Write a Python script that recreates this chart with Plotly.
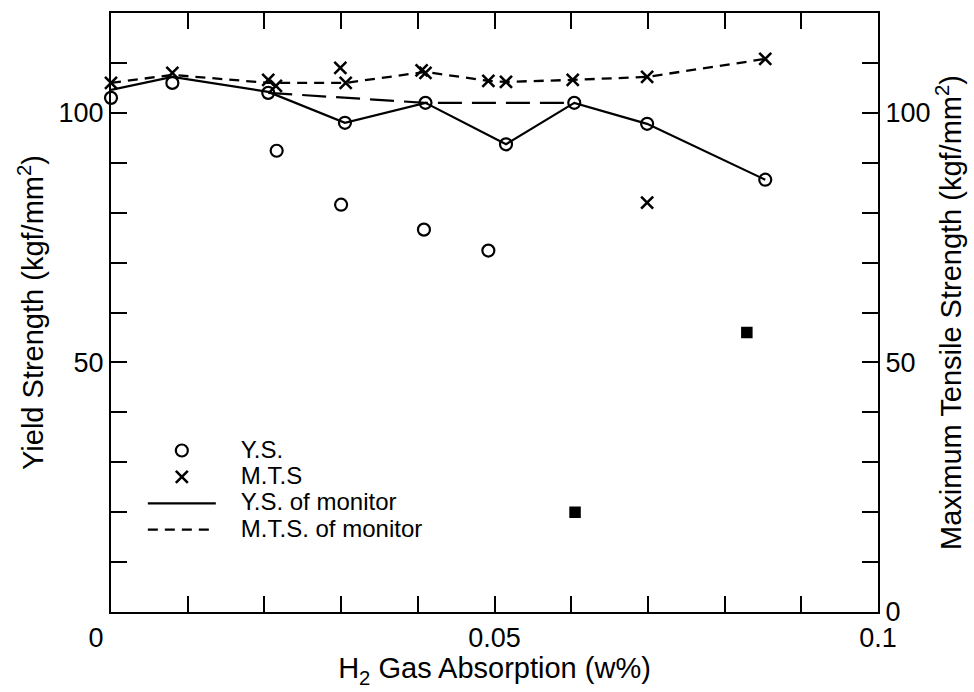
import plotly.graph_objects as go

# ---- data ----
# Y.S. individual specimens (circles)
ys_x = [0.0, 0.008, 0.0205, 0.0216, 0.0300, 0.0305, 0.0408, 0.0410, 0.0492, 0.0515, 0.0604, 0.0699, 0.0853]
ys_y = [103.0, 106.0, 104.0, 92.4, 81.6, 98.0, 76.6, 102.0, 72.4, 93.7, 102.0, 97.8, 86.6]

# M.T.S individual specimens (crosses)
mts_x = [0.0, 0.008, 0.0205, 0.0215, 0.0299, 0.0306, 0.0405, 0.0410, 0.0492, 0.0515, 0.0602, 0.0699, 0.0853, 0.0699]
mts_y = [106.0, 108.0, 106.6, 105.4, 109.0, 106.0, 108.5, 108.0, 106.4, 106.2, 106.6, 107.2, 110.8, 82.0]

# specimens where Y.S. = M.T.S. (overlapping symbols)
both_x = [0.0605, 0.0829]
both_y = [20.0, 56.0]

# monitor curves
ysm_x = [0.0, 0.008, 0.0205, 0.0305, 0.041, 0.0515, 0.0604, 0.0699, 0.0853]
ysm_y = [104.6, 107.2, 104.2, 98.0, 102.0, 93.7, 102.0, 97.8, 86.6]

mtsm_x = [0.0, 0.008, 0.0205, 0.0306, 0.041, 0.0492, 0.0515, 0.0602, 0.0699, 0.0853]
mtsm_y = [106.0, 107.6, 106.0, 106.0, 108.2, 106.4, 106.2, 106.6, 107.2, 110.8]

# long-dash reference line
ref_x = [0.0205, 0.041, 0.0604]
ref_y = [104.0, 102.0, 102.0]

x_ticks = [i / 100 for i in range(11)]
x_text = ["0" + "\u00a0" * 4, "", "", "", "", "0.05", "", "", "", "", "0.1"]
y_ticks = list(range(0, 121, 10))
yl_text = ["" if v not in (50, 100) else str(v) for v in y_ticks]
yr_text = ["" if v not in (0, 50, 100) else str(v) for v in y_ticks]

legend_names = ["Y.S.", "M.T.S", "Y.S. of monitor", "M.T.S. of monitor"]

FONT = "Liberation Sans, Arial, Helvetica, sans-serif"
K = "black"
PAD = "\u00a0" * 4


def leg(name):
    return PAD + '<span style="font-size:24px">' + name + "</span>"


fig = go.Figure()

fig.add_trace(go.Scatter(x=ys_x, y=ys_y, mode="markers", name=leg(legend_names[0]), cliponaxis=False,
                         marker=dict(symbol="circle-open", size=12, color=K, line=dict(width=2.2, color=K))))
fig.add_trace(go.Scatter(x=mts_x, y=mts_y, mode="markers", name=leg(legend_names[1]), yaxis="y2", cliponaxis=False,
                         marker=dict(symbol="x-thin-open", size=12, color=K, line=dict(width=2.6, color=K))))
fig.add_trace(go.Scatter(x=ysm_x, y=ysm_y, mode="lines", name=leg(legend_names[2]), cliponaxis=False,
                         line=dict(color=K, width=2.2)))
fig.add_trace(go.Scatter(x=mtsm_x, y=mtsm_y, mode="lines", name=leg(legend_names[3]), yaxis="y2", cliponaxis=False,
                         line=dict(color=K, width=2.3, dash="10px,7px")))
fig.add_trace(go.Scatter(x=ref_x, y=ref_y, mode="lines", showlegend=False,
                         line=dict(color=K, width=2.2, dash="24px,10px")))
fig.add_trace(go.Scatter(x=both_x, y=both_y, mode="markers", showlegend=False,
                         marker=dict(symbol="square-x", size=10, color=K, line=dict(width=1.5, color=K))))

axis_common = dict(showgrid=False, zeroline=False, showline=True, linecolor=K, linewidth=2.2,
                   ticks="inside", ticklen=16, tickwidth=2, tickcolor=K,
                   tickfont=dict(family=FONT, size=27, color=K))
TFONT = dict(family=FONT, size=29, color=K)

fig.update_layout(
    width=974, height=692,
    margin=dict(l=111, r=96, t=13, b=80),
    paper_bgcolor="white", plot_bgcolor="white",
    font=dict(family=FONT, size=26, color=K),
    showlegend=True,
    legend=dict(x=0.0415, y=0.30, xanchor="left", yanchor="top",
                bgcolor="rgba(0,0,0,0)", borderwidth=0,
                font=dict(family=FONT, size=18, color=K),
                itemwidth=68, tracegroupgap=0),
    xaxis=dict(range=[0, 0.1], tickvals=x_ticks, ticktext=x_text, mirror="ticks",
               title=dict(text="H<sub>2</sub> Gas Absorption (w%)", font=TFONT, standoff=6),
               **axis_common),
    yaxis=dict(range=[0, 120], tickvals=y_ticks, ticktext=yl_text,
               title=dict(text="Yield Strength (kgf/mm<sup>2</sup>)", font=TFONT, standoff=6),
               **axis_common),
    yaxis2=dict(range=[0, 120], tickvals=y_ticks, ticktext=yr_text, overlaying="y", side="right",
                title=dict(text="Maximum Tensile Strength (kgf/mm<sup>2</sup>)", font=TFONT, standoff=10),
                **axis_common),
)

fig.write_html("out.html")
